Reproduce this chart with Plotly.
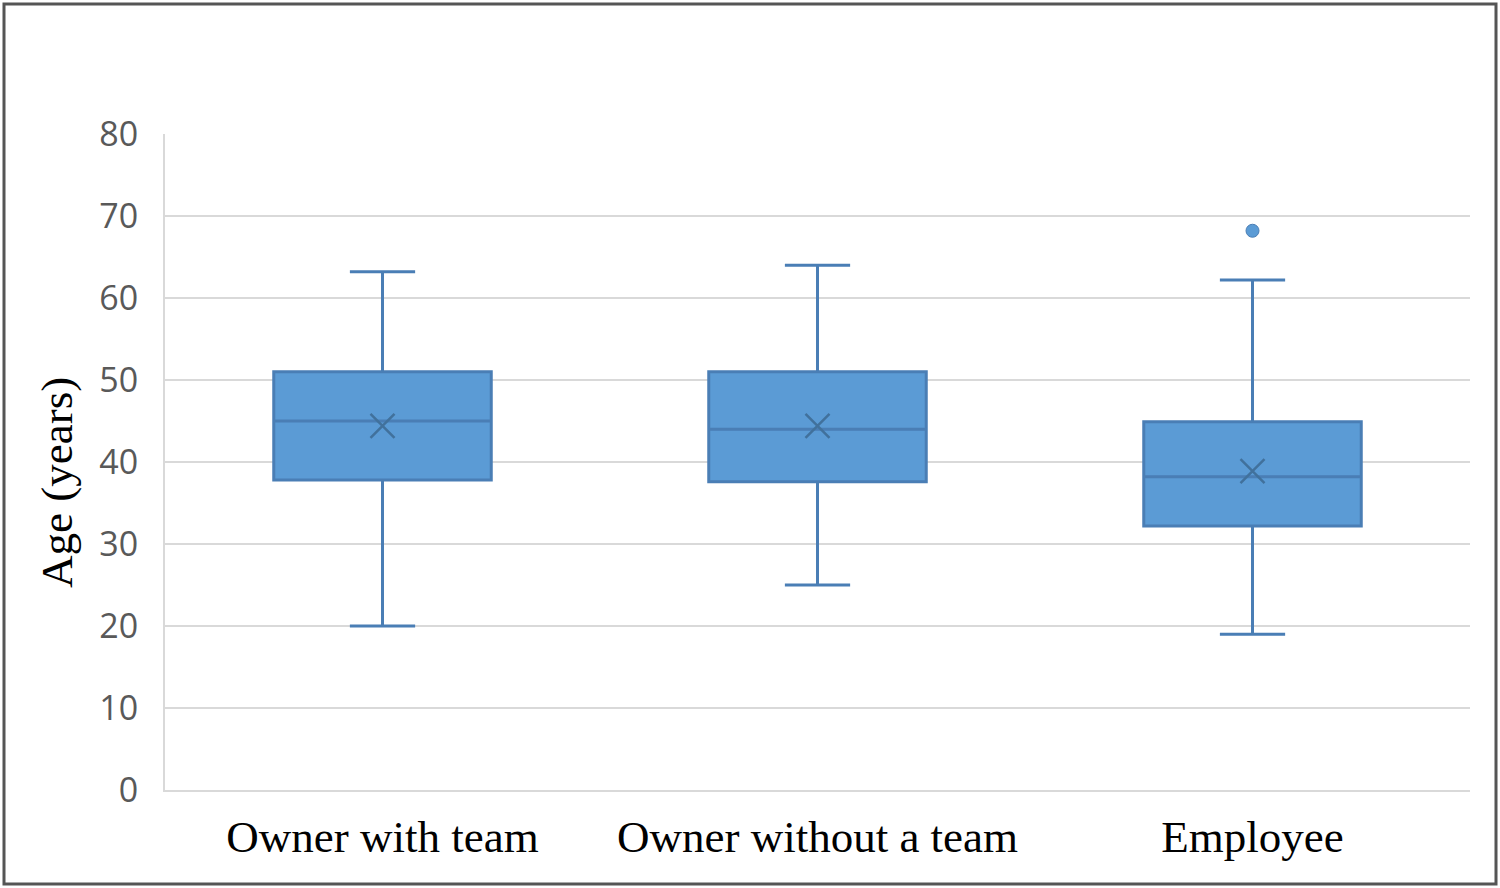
import plotly.graph_objects as go

categories = ["Owner with team", "Owner without a team", "Employee"]
q1_vals = [37.8, 37.6, 32.2]
median_vals = [45.0, 44.0, 38.2]
q3_vals = [51.0, 51.0, 44.9]
lower_whisker = [20.0, 25.0, 19.0]
upper_whisker = [63.2, 64.0, 62.2]
mean_vals = [44.4, 44.4, 38.9]
outlier_cats = ["Employee"]
outlier_vals = [68.2]
y_tick_vals = [0, 10, 20, 30, 40, 50, 60, 70, 80]
y_tick_text = ["0", "10", "20", "30", "40", "50", "60", "70", "80"]

FILL = "#5B9BD5"
EDGE = "#4A7EB5"
MEAN_C = "#41719C"

fig = go.Figure()
fig.add_trace(go.Box(
    x=categories,
    q1=q1_vals, median=median_vals, q3=q3_vals,
    lowerfence=lower_whisker, upperfence=upper_whisker,
    fillcolor=FILL,
    line=dict(color=EDGE, width=3),
    width=0.5,
    whiskerwidth=0.3,
    boxpoints=False,
    showlegend=False,
))
fig.add_trace(go.Scatter(
    x=categories, y=mean_vals, mode="markers",
    marker=dict(symbol="x-thin", size=24, line=dict(color=MEAN_C, width=2.5)),
    showlegend=False,
))
fig.add_trace(go.Scatter(
    x=outlier_cats, y=outlier_vals, mode="markers",
    marker=dict(symbol="circle", size=13, color=FILL, line=dict(color=EDGE, width=1)),
    showlegend=False,
))

L, R, T, B = 165, 30, 134, 98
W, H = 1500, 888
pw, ph = W - L - R, H - T - B

def px_to_paper_x(px):
    return (px - L) / pw

def px_to_paper_y(py):
    return (H - B - py) / ph

fig.add_shape(type="rect", xref="paper", yref="paper",
              x0=px_to_paper_x(4), x1=px_to_paper_x(1496),
              y0=px_to_paper_y(884), y1=px_to_paper_y(4),
              line=dict(color="#555555", width=3), layer="above")

fig.add_annotation(
    text="Age (years)", textangle=-90,
    xref="paper", yref="paper",
    x=px_to_paper_x(57), y=px_to_paper_y(483),
    xanchor="center", yanchor="middle", showarrow=False,
    font=dict(family="Liberation Serif", size=45, color="#000000"),
)

fig.update_layout(
    width=W, height=H,
    margin=dict(l=L, r=R, t=T, b=B),
    paper_bgcolor="white", plot_bgcolor="white",
    xaxis=dict(
        type="category",
        range=[-0.5, 2.5],
        showgrid=False,
        showline=True, linecolor="#D9D9D9", linewidth=2,
        ticks="", ticklabelstandoff=6,
        tickfont=dict(family="Liberation Serif", size=45, color="#000000"),
    ),
    yaxis=dict(
        range=[0, 80],
        tickvals=y_tick_vals, ticktext=y_tick_text,
        showgrid=True, gridcolor="#D9D9D9", gridwidth=2,
        showline=True, linecolor="#D9D9D9", linewidth=2,
        zeroline=False,
        ticks="", ticklabelstandoff=18,
        tickfont=dict(family="Open Sans", size=34, color="#595959"),
    ),
)

fig.write_html("out.html")
